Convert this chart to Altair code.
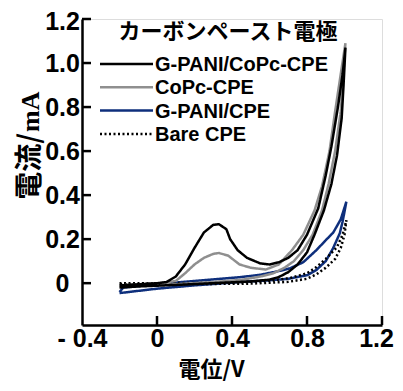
import altair as alt
import pandas as pd

# ---- data ----
series_names = ["G-PANI/CoPc-CPE", "CoPc-CPE", "G-PANI/CPE", "Bare CPE"]
series_colors = ["#000000", "#8f8f8f", "#0e2f7c", "#000000"]
series_dash = [[1, 0], [1, 0], [1, 0], [2, 2.5]]

# G-PANI/CoPc-CPE (black)
blk_fwd_v = [-0.2, -0.1, 0.0, 0.05, 0.1, 0.15, 0.2, 0.25, 0.3, 0.33, 0.37, 0.39, 0.43, 0.48, 0.55, 0.6, 0.65, 0.7, 0.75, 0.8, 0.86, 0.9, 0.93, 0.965, 0.99, 1.005]
blk_fwd_i = [-0.01, -0.005, 0.0, 0.005, 0.03, 0.085, 0.16, 0.23, 0.265, 0.268, 0.245, 0.2, 0.15, 0.115, 0.09, 0.085, 0.095, 0.115, 0.15, 0.22, 0.34, 0.49, 0.62, 0.8, 0.95, 1.07]
blk_rev_v = [1.005, 0.995, 0.985, 0.96, 0.93, 0.89, 0.84, 0.8, 0.75, 0.7, 0.65, 0.6, 0.5, 0.3, 0.1, -0.1, -0.2]
blk_rev_i = [1.07, 0.9, 0.75, 0.58, 0.45, 0.33, 0.22, 0.14, 0.085, 0.05, 0.028, 0.016, 0.008, 0.0, -0.008, -0.015, -0.02]

# CoPc-CPE (grey)
gry_fwd_v = [-0.2, 0.0, 0.1, 0.15, 0.2, 0.25, 0.3, 0.33, 0.38, 0.44, 0.5, 0.58, 0.65, 0.72, 0.78, 0.84, 0.88, 0.92, 0.95, 0.98, 1.005]
gry_fwd_i = [-0.01, -0.002, 0.01, 0.045, 0.085, 0.115, 0.133, 0.137, 0.125, 0.085, 0.07, 0.062, 0.085, 0.15, 0.22, 0.33, 0.44, 0.6, 0.78, 0.95, 1.09]
gry_rev_v = [1.005, 0.99, 0.98, 0.95, 0.915, 0.88, 0.83, 0.78, 0.73, 0.68, 0.62, 0.55, 0.45, 0.3, 0.1, -0.2]
gry_rev_i = [1.09, 0.9, 0.78, 0.6, 0.45, 0.33, 0.22, 0.15, 0.1, 0.07, 0.045, 0.03, 0.015, 0.005, -0.005, -0.015]

# G-PANI/CPE (blue)
blu_fwd_v = [-0.2, -0.18, -0.1, 0.0, 0.1, 0.2, 0.3, 0.44, 0.55, 0.65, 0.71, 0.78, 0.85, 0.9, 0.94, 0.98, 1.01]
blu_fwd_i = [-0.04, -0.02, -0.013, -0.005, 0.003, 0.01, 0.017, 0.027, 0.038, 0.055, 0.068, 0.095, 0.15, 0.195, 0.23, 0.29, 0.37]
blu_rev_v = [1.01, 0.99, 0.975, 0.94, 0.9, 0.85, 0.8, 0.7, 0.6, 0.44, 0.2, 0.0, -0.15, -0.2]
blu_rev_i = [0.37, 0.28, 0.227, 0.16, 0.1, 0.06, 0.036, 0.02, 0.013, 0.005, -0.01, -0.025, -0.04, -0.045]

# Bare CPE (dotted)
bar_fwd_v = [-0.2, 0.0, 0.2, 0.44, 0.6, 0.71, 0.8, 0.85, 0.9, 0.96, 0.99, 1.01]
bar_fwd_i = [0.0, 0.0, 0.001, 0.004, 0.012, 0.023, 0.045, 0.073, 0.11, 0.164, 0.22, 0.286]
bar_rev_v = [1.01, 1.0, 0.98, 0.95, 0.9, 0.85, 0.8, 0.7, 0.5, 0.2, -0.2]
bar_rev_i = [0.286, 0.22, 0.16, 0.11, 0.07, 0.04, 0.02, 0.006, -0.002, -0.004, -0.005]

x_ticks = [-0.4, 0.0, 0.4, 0.8, 1.2]
y_ticks = [0.0, 0.2, 0.4, 0.6, 0.8, 1.0, 1.2]

title_text = "カーボンペースト電極"
x_title = "電位/V"
y_title_cjk = "電流/"
y_title_unit = "mA"

# ---- build table ----
rows = []
def add(name, fv, fi, rv, ri):
    k = 0
    for v, i in list(zip(fv, fi)) + list(zip(rv, ri)):
        rows.append({"series": name, "E": v, "I": i, "idx": k})
        k += 1

# drawing order: blue, dotted, grey, black (black on top)
add("G-PANI/CPE", blu_fwd_v, blu_fwd_i, blu_rev_v, blu_rev_i)
add("Bare CPE", bar_fwd_v, bar_fwd_i, bar_rev_v, bar_rev_i)
add("CoPc-CPE", gry_fwd_v, gry_fwd_i, gry_rev_v, gry_rev_i)
add("G-PANI/CoPc-CPE", blk_fwd_v, blk_fwd_i, blk_rev_v, blk_rev_i)
df = pd.DataFrame(rows)

W, H = 300, 306
xs = alt.Scale(domain=[-0.4, 1.2], nice=False, zero=False)
ys = alt.Scale(domain=[-0.19, 1.2], nice=False, zero=False)

lines = alt.Chart(df).mark_line(strokeWidth=2.5).encode(
    x=alt.X("E:Q", scale=xs, axis=alt.Axis(
        values=x_ticks, ticks=False, tickSize=0, grid=False,
        labelExpr="datum.value < 0 ? '- ' + format(abs(datum.value), '.1f') : (datum.value == 0 ? '0' : format(datum.value, '.1f'))",
        labelFont="Liberation Sans", labelFontSize=25, labelFontWeight="bold", labelColor="black",
        labelPadding=1, labelFlush=False,
        labelOffset={"condition": {"test": "datum.value > 1.1", "value": -6}, "value": 0},
        domainColor="black", domainWidth=2.5,
        title=x_title, titleFont="Noto Sans CJK JP", titleFontSize=22, titleFontWeight="bold",
        titleColor="black", titleX=129, titleY=44.5, titleAlign="center", titleBaseline="middle")),
    y=alt.Y("I:Q", scale=ys, axis=alt.Axis(
        values=y_ticks, ticks=False, tickSize=0, grid=False,
        labelExpr="datum.value == 0 ? '0' : format(datum.value, '.1f')",
        labelFont="Liberation Sans", labelFontSize=25, labelFontWeight="bold", labelColor="black",
        labelAlign="center", labelPadding=20, labelFlush=False,
        labelOffset={"condition": {"test": "datum.value > 1.1", "value": 2}, "value": 0},
        domainColor="black", domainWidth=2.5, title=None)),
    color=alt.Color("series:N", scale=alt.Scale(domain=series_names, range=series_colors), legend=None),
    strokeDash=alt.StrokeDash("series:N", scale=alt.Scale(domain=series_names, range=series_dash), legend=None),
    order=alt.Order("idx:Q"),
    detail="series:N",
)

ytick_df = pd.DataFrame({"I": y_ticks})
xtick_df = pd.DataFrame({"E": [v for v in x_ticks if v > -0.4]})

yticks = alt.Chart(ytick_df).mark_rule(color="black", strokeWidth=2.5).encode(
    y=alt.Y("I:Q", scale=ys), x=alt.value(0), x2=alt.value(9))
xticks = alt.Chart(xtick_df).mark_rule(color="black", strokeWidth=2.5).encode(
    x=alt.X("E:Q", scale=xs), y=alt.value(H - 9), y2=alt.value(H))

# chart title inside the plot
title = alt.Chart(pd.DataFrame({"t": [title_text]})).mark_text(
    font="Noto Sans CJK JP", fontSize=22, fontWeight="bold", color="black",
    align="center", baseline="middle").encode(text="t:N", x=alt.value(146), y=alt.value(13))

# y-axis title: CJK part in sans bold, unit in serif
ytitle_a = alt.Chart(pd.DataFrame({"t": [y_title_cjk]})).mark_text(
    font="Noto Sans CJK JP", fontSize=28, fontWeight="bold", color="black",
    align="right", baseline="alphabetic", angle=270).encode(text="t:N", x=alt.value(-43), y=alt.value(114))
ytitle_b = alt.Chart(pd.DataFrame({"t": [y_title_unit]})).mark_text(
    font="Liberation Serif", fontSize=26, fontWeight="bold", color="black",
    align="left", baseline="alphabetic", angle=270).encode(text="t:N", x=alt.value(-43), y=alt.value(113))

# legend (drawn in plot coordinates)
legend_layers = []
for k, (name, col, dash) in enumerate(zip(series_names, series_colors, series_dash)):
    ld = pd.DataFrame({"t": [name]})
    yk = 45 + 23.3 * k
    legend_layers.append(alt.Chart(ld).mark_rule(color=col, strokeWidth=2.5, strokeDash=dash).encode(
        x=alt.value(18), x2=alt.value(71), y=alt.value(yk)))
    legend_layers.append(alt.Chart(ld).mark_text(
        font="Liberation Sans", fontSize=20, fontWeight="bold", color="black",
        align="left", baseline="middle").encode(text="t:N", x=alt.value(73), y=alt.value(yk + 1)))

chart = alt.layer(lines, yticks, xticks, title, ytitle_a, ytitle_b, *legend_layers).properties(
    width=W, height=H,
    autosize=alt.AutoSizeParams(type="none"),
    padding={"left": 74, "top": 11, "right": 13, "bottom": 58},
).configure_view(stroke=None).configure(background="white")

chart.save("out.html", embed_options={"renderer": "svg", "actions": False})
